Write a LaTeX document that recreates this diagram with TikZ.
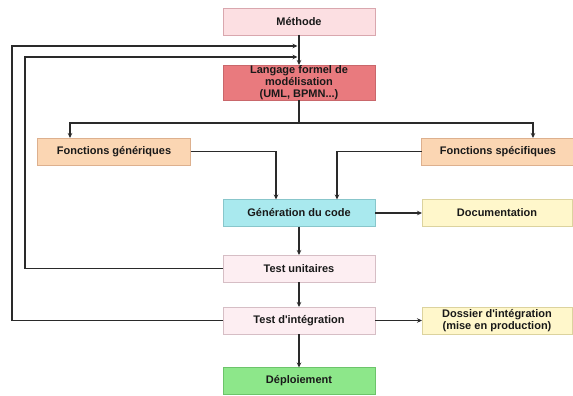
\documentclass[tikz,border=0pt]{standalone}
\usepackage{fontspec}
\setmainfont{Liberation Sans}
\usetikzlibrary{positioning,arrows.meta}
\definecolor{methodefill}{HTML}{FCDFE2}
\definecolor{methodedraw}{HTML}{D9A7AE}
\definecolor{langagefill}{HTML}{E97A7E}
\definecolor{langagedraw}{HTML}{C9676B}
\definecolor{fonctionfill}{HTML}{FBD6B3}
\definecolor{fonctiondraw}{HTML}{DDB08E}
\definecolor{generationfill}{HTML}{A9E9EE}
\definecolor{generationdraw}{HTML}{88C6CB}
\definecolor{docfill}{HTML}{FFF7CB}
\definecolor{docdraw}{HTML}{DCD39E}
\definecolor{testfill}{HTML}{FDEEF2}
\definecolor{testdraw}{HTML}{D6BEC5}
\definecolor{deployfill}{HTML}{8DE78A}
\definecolor{deploydraw}{HTML}{6CC46A}
\definecolor{ligne}{HTML}{2A2A2A}

\begin{document}
\begin{tikzpicture}[x=1pt,y=1pt,on grid,
    line width=1.1pt,draw=ligne,->,>={Stealth[length=5pt,width=4.5pt]},
    box/.style={rectangle,line width=0.8pt,minimum width=152pt,minimum height=27pt,
        inner sep=0pt,outer sep=0pt,align=center,text=black!90,
        font=\bfseries\fontsize{11}{11.8}\selectfont},
    methode/.style={box,fill=methodefill,draw=methodedraw},
    langage/.style={box,fill=langagefill,draw=langagedraw,minimum height=35pt},
    fonction/.style={box,fill=fonctionfill,draw=fonctiondraw,minimum width=153pt},
    generation/.style={box,fill=generationfill,draw=generationdraw},
    doc/.style={box,fill=docfill,draw=docdraw,minimum width=150pt},
    test/.style={box,fill=testfill,draw=testdraw},
    deploy/.style={box,fill=deployfill,draw=deploydraw}]
    \useasboundingbox (0,0) rectangle (573,-396);

    \node[methode]    (M)   at (299,-21.5)           {Méthode};
    \node[langage]    (L)   [below=61pt of M]        {Langage formel de\\modélisation\\(UML, BPMN...)};
    \node[fonction]   (FG)  at (114,-151.5)          {Fonctions génériques};
    \node[fonction]   (FS)  at (498,-151.5)          {Fonctions spécifiques};
    \node[generation] (G)   [below=130.5pt of L]     {Génération du code};
    \node[doc]        (Doc) [right=198pt of G]       {Documentation};
    \node[test]       (TU)  [below=55.5pt of G]      {Test unitaires};
    \node[test]       (TI)  [below=52pt of TU]       {Test d\textquotesingle intégration};
    \node[doc]        (Dos) [right=198pt of TI]      {Dossier d\textquotesingle intégration\\(mise en production)};
    \node[deploy]     (D)   [below=60.5pt of TI]     {Déploiement};

    \coordinate (split) at (299,-123);
    \coordinate (retour1) at (297.5,-46);
    \coordinate (retour2) at (297.5,-57);

    \draw (M) -- (L);
    \draw[-] (L) -- (split);
    \draw (split) -| ([xshift=-44pt]FG.north);
    \draw (split) -| ([xshift=35pt]FS.north);
    \draw (FG) -| ([xshift=-23pt]G.north);
    \draw (FS) -| ([xshift=38pt]G.north);
    \draw (G) -- (Doc);
    \draw (G) -- (TU);
    \draw (TU) -- (TI);
    \draw (TI) -- (Dos);
    \draw (TI) -- (D);
    \draw (TU) -| (25,-57) -- (retour2);
    \draw (TI) -| (12,-46) -- (retour1);
\end{tikzpicture}
\end{document}
